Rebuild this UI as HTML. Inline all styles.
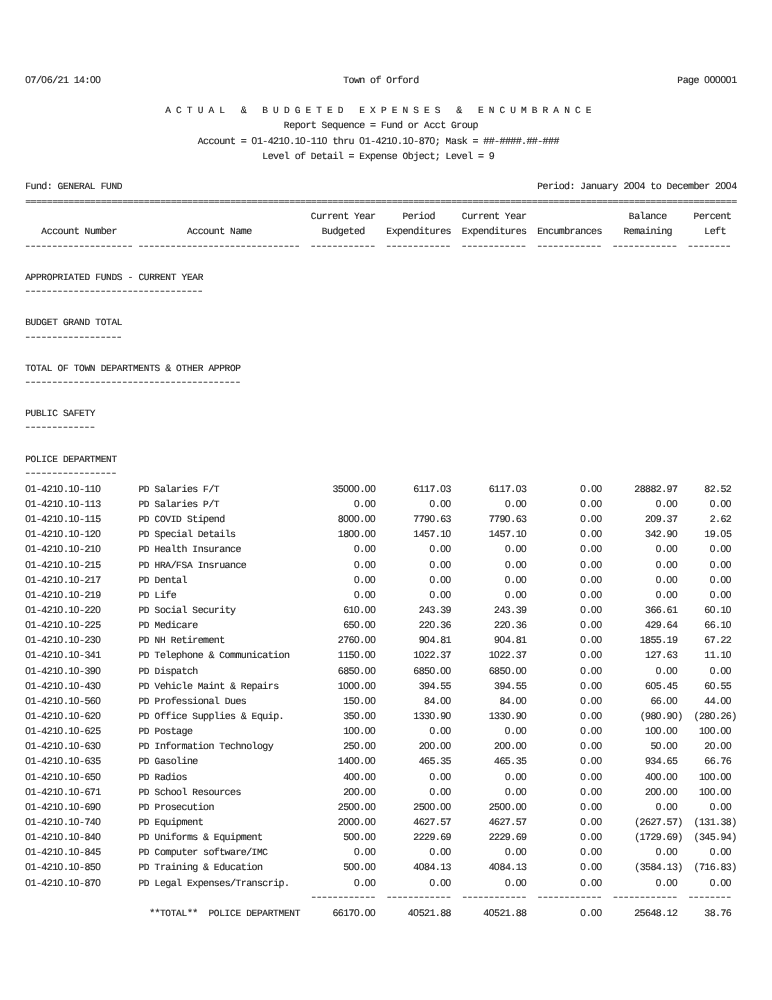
<!DOCTYPE html>
<html><head><meta charset="utf-8"><title>Town of Orford</title>
<style>
html,body{margin:0;padding:0;background:#fff;}
body{width:772px;height:1000px;position:relative;overflow:hidden;}
.l{position:absolute;left:25.2px;margin:0;white-space:pre;font-family:"Liberation Mono",monospace;font-size:10px;line-height:14px;height:14px;letter-spacing:-0.6120px;color:#222;text-rendering:geometricPrecision;-webkit-text-stroke:0.15px #222;}
.c{font-size:9.5px;letter-spacing:-0.3119px;}
.d{font-size:10px;letter-spacing:-1.6550px;color:#444;-webkit-text-stroke:0.18px #444;transform:scaleX(1.24);transform-origin:0 0;}
.e{font-weight:bold;-webkit-text-stroke:0;transform:scaleY(0.7);transform-origin:0 8.9px;color:#4a4a4a;}
.z{font-family:"Liberation Sans",sans-serif;font-size:10px;letter-spacing:-0.1725px;}
#pg{position:absolute;left:0;top:0;width:772px;height:1000px;will-change:transform;filter:grayscale(1);}
</style></head><body><div id="pg">
<div class="l" style="top:74.00px"><span class="z">0</span>7/<span class="z">0</span>6/21 14:<span class="z">00</span>                                             <span class="c">T</span>own of <span class="c">O</span>rford                                                <span class="c">P</span>age <span class="z">00000</span>1</div>
<div class="l" style="top:104.00px">                          <span class="c">A C T U A L</span>   &amp;   <span class="c">B U D G E T E D   E X P E N S E S</span>   &amp;   <span class="c">E N C U M B R A N C E</span></div>
<div class="l" style="top:119.00px">                                                <span class="c">R</span>eport <span class="c">S</span>equence = <span class="c">F</span>und or <span class="c">A</span>cct <span class="c">G</span>roup</div>
<div class="l" style="top:135.00px">                                <span class="c">A</span>ccount = <span class="z">0</span>1-421<span class="z">0</span>.1<span class="z">0</span>-11<span class="z">0</span> thru <span class="z">0</span>1-421<span class="z">0</span>.1<span class="z">0</span>-87<span class="z">0</span>; <span class="c">M</span>ask = ##-####.##-###</div>
<div class="l" style="top:150.00px">                                            <span class="c">L</span>evel of <span class="c">D</span>etail = <span class="c">E</span>xpense <span class="c">O</span>bject; <span class="c">L</span>evel = 9</div>
<div class="l" style="top:180.00px"><span class="c">F</span>und: <span class="c">GENERAL FUND                                                                             P</span>eriod: <span class="c">J</span>anuary 2<span class="z">00</span>4 to <span class="c">D</span>ecember 2<span class="z">00</span>4</div>
<div class="l e" style="top:196.00px">====================================================================================================================================</div>
<div class="l" style="top:210.00px">                                                     <span class="c">C</span>urrent <span class="c">Y</span>ear     <span class="c">P</span>eriod     <span class="c">C</span>urrent <span class="c">Y</span>ear                   <span class="c">B</span>alance     <span class="c">P</span>ercent</div>
<div class="l" style="top:225.00px">   <span class="c">A</span>ccount <span class="c">N</span>umber             <span class="c">A</span>ccount <span class="c">N</span>ame             <span class="c">B</span>udgeted    <span class="c">E</span>xpenditures  <span class="c">E</span>xpenditures  <span class="c">E</span>ncumbrances    <span class="c">R</span>emaining      <span class="c">L</span>eft</div>
<div class="l d" style="top:241.00px;left:24.20px">-------------------- ------------------------------  ------------  ------------  ------------  ------------  ------------  --------</div>
<div class="l" style="top:271.00px"><span class="c">APPROPRIATED FUNDS</span> - <span class="c">CURRENT YEAR</span></div>
<div class="l d" style="top:286.00px;left:24.20px">---------------------------------</div>
<div class="l" style="top:316.00px"><span class="c">BUDGET GRAND TOTAL</span></div>
<div class="l d" style="top:332.00px;left:24.20px">------------------</div>
<div class="l" style="top:362.00px"><span class="c">TOTAL OF TOWN DEPARTMENTS</span> &amp; <span class="c">OTHER APPROP</span></div>
<div class="l d" style="top:377.00px;left:24.20px">----------------------------------------</div>
<div class="l" style="top:407.00px"><span class="c">PUBLIC SAFETY</span></div>
<div class="l d" style="top:422.00px;left:24.20px">-------------</div>
<div class="l" style="top:453.00px"><span class="c">POLICE DEPARTMENT</span></div>
<div class="l d" style="top:468.00px;left:24.20px">-----------------</div>
<div class="l" style="top:483.00px"><span class="z">0</span>1-421<span class="z">0</span>.1<span class="z">0</span>-11<span class="z">0</span>       <span class="c">PD S</span>alaries <span class="c">F</span>/<span class="c">T</span>                     35<span class="z">000</span>.<span class="z">00</span>       6117.<span class="z">0</span>3       6117.<span class="z">0</span>3          <span class="z">0</span>.<span class="z">00</span>      28882.97     82.52</div>
<div class="l" style="top:498.00px"><span class="z">0</span>1-421<span class="z">0</span>.1<span class="z">0</span>-113       <span class="c">PD S</span>alaries <span class="c">P</span>/<span class="c">T</span>                         <span class="z">0</span>.<span class="z">00</span>          <span class="z">0</span>.<span class="z">00</span>          <span class="z">0</span>.<span class="z">00</span>          <span class="z">0</span>.<span class="z">00</span>          <span class="z">0</span>.<span class="z">00</span>      <span class="z">0</span>.<span class="z">00</span></div>
<div class="l" style="top:513.00px"><span class="z">0</span>1-421<span class="z">0</span>.1<span class="z">0</span>-115       <span class="c">PD COVID S</span>tipend                     8<span class="z">000</span>.<span class="z">00</span>       779<span class="z">0</span>.63       779<span class="z">0</span>.63          <span class="z">0</span>.<span class="z">00</span>        2<span class="z">0</span>9.37      2.62</div>
<div class="l" style="top:528.00px"><span class="z">0</span>1-421<span class="z">0</span>.1<span class="z">0</span>-12<span class="z">0</span>       <span class="c">PD S</span>pecial <span class="c">D</span>etails                   18<span class="z">00</span>.<span class="z">00</span>       1457.1<span class="z">0</span>       1457.1<span class="z">0</span>          <span class="z">0</span>.<span class="z">00</span>        342.9<span class="z">0</span>     19.<span class="z">0</span>5</div>
<div class="l" style="top:543.00px"><span class="z">0</span>1-421<span class="z">0</span>.1<span class="z">0</span>-21<span class="z">0</span>       <span class="c">PD H</span>ealth <span class="c">I</span>nsurance                     <span class="z">0</span>.<span class="z">00</span>          <span class="z">0</span>.<span class="z">00</span>          <span class="z">0</span>.<span class="z">00</span>          <span class="z">0</span>.<span class="z">00</span>          <span class="z">0</span>.<span class="z">00</span>      <span class="z">0</span>.<span class="z">00</span></div>
<div class="l" style="top:559.00px"><span class="z">0</span>1-421<span class="z">0</span>.1<span class="z">0</span>-215       <span class="c">PD HRA</span>/<span class="c">FSA I</span>nsruance                    <span class="z">0</span>.<span class="z">00</span>          <span class="z">0</span>.<span class="z">00</span>          <span class="z">0</span>.<span class="z">00</span>          <span class="z">0</span>.<span class="z">00</span>          <span class="z">0</span>.<span class="z">00</span>      <span class="z">0</span>.<span class="z">00</span></div>
<div class="l" style="top:574.00px"><span class="z">0</span>1-421<span class="z">0</span>.1<span class="z">0</span>-217       <span class="c">PD D</span>ental                               <span class="z">0</span>.<span class="z">00</span>          <span class="z">0</span>.<span class="z">00</span>          <span class="z">0</span>.<span class="z">00</span>          <span class="z">0</span>.<span class="z">00</span>          <span class="z">0</span>.<span class="z">00</span>      <span class="z">0</span>.<span class="z">00</span></div>
<div class="l" style="top:589.00px"><span class="z">0</span>1-421<span class="z">0</span>.1<span class="z">0</span>-219       <span class="c">PD L</span>ife                                 <span class="z">0</span>.<span class="z">00</span>          <span class="z">0</span>.<span class="z">00</span>          <span class="z">0</span>.<span class="z">00</span>          <span class="z">0</span>.<span class="z">00</span>          <span class="z">0</span>.<span class="z">00</span>      <span class="z">0</span>.<span class="z">00</span></div>
<div class="l" style="top:604.00px"><span class="z">0</span>1-421<span class="z">0</span>.1<span class="z">0</span>-22<span class="z">0</span>       <span class="c">PD S</span>ocial <span class="c">S</span>ecurity                    61<span class="z">0</span>.<span class="z">00</span>        243.39        243.39          <span class="z">0</span>.<span class="z">00</span>        366.61     6<span class="z">0</span>.1<span class="z">0</span></div>
<div class="l" style="top:619.00px"><span class="z">0</span>1-421<span class="z">0</span>.1<span class="z">0</span>-225       <span class="c">PD M</span>edicare                           65<span class="z">0</span>.<span class="z">00</span>        22<span class="z">0</span>.36        22<span class="z">0</span>.36          <span class="z">0</span>.<span class="z">00</span>        429.64     66.1<span class="z">0</span></div>
<div class="l" style="top:634.00px"><span class="z">0</span>1-421<span class="z">0</span>.1<span class="z">0</span>-23<span class="z">0</span>       <span class="c">PD NH R</span>etirement                     276<span class="z">0</span>.<span class="z">00</span>        9<span class="z">0</span>4.81        9<span class="z">0</span>4.81          <span class="z">0</span>.<span class="z">00</span>       1855.19     67.22</div>
<div class="l" style="top:649.00px"><span class="z">0</span>1-421<span class="z">0</span>.1<span class="z">0</span>-341       <span class="c">PD T</span>elephone &amp; <span class="c">C</span>ommunication         115<span class="z">0</span>.<span class="z">00</span>       1<span class="z">0</span>22.37       1<span class="z">0</span>22.37          <span class="z">0</span>.<span class="z">00</span>        127.63     11.1<span class="z">0</span></div>
<div class="l" style="top:665.00px"><span class="z">0</span>1-421<span class="z">0</span>.1<span class="z">0</span>-39<span class="z">0</span>       <span class="c">PD D</span>ispatch                          685<span class="z">0</span>.<span class="z">00</span>       685<span class="z">0</span>.<span class="z">00</span>       685<span class="z">0</span>.<span class="z">00</span>          <span class="z">0</span>.<span class="z">00</span>          <span class="z">0</span>.<span class="z">00</span>      <span class="z">0</span>.<span class="z">00</span></div>
<div class="l" style="top:680.00px"><span class="z">0</span>1-421<span class="z">0</span>.1<span class="z">0</span>-43<span class="z">0</span>       <span class="c">PD V</span>ehicle <span class="c">M</span>aint &amp; <span class="c">R</span>epairs           1<span class="z">000</span>.<span class="z">00</span>        394.55        394.55          <span class="z">0</span>.<span class="z">00</span>        6<span class="z">0</span>5.45     6<span class="z">0</span>.55</div>
<div class="l" style="top:695.00px"><span class="z">0</span>1-421<span class="z">0</span>.1<span class="z">0</span>-56<span class="z">0</span>       <span class="c">PD P</span>rofessional <span class="c">D</span>ues                  15<span class="z">0</span>.<span class="z">00</span>         84.<span class="z">00</span>         84.<span class="z">00</span>          <span class="z">0</span>.<span class="z">00</span>         66.<span class="z">00</span>     44.<span class="z">00</span></div>
<div class="l" style="top:710.00px"><span class="z">0</span>1-421<span class="z">0</span>.1<span class="z">0</span>-62<span class="z">0</span>       <span class="c">PD O</span>ffice <span class="c">S</span>upplies &amp; <span class="c">E</span>quip.           35<span class="z">0</span>.<span class="z">00</span>       133<span class="z">0</span>.9<span class="z">0</span>       133<span class="z">0</span>.9<span class="z">0</span>          <span class="z">0</span>.<span class="z">00</span>       (98<span class="z">0</span>.9<span class="z">0</span>)  (28<span class="z">0</span>.26)</div>
<div class="l" style="top:725.00px"><span class="z">0</span>1-421<span class="z">0</span>.1<span class="z">0</span>-625       <span class="c">PD P</span>ostage                            1<span class="z">00</span>.<span class="z">00</span>          <span class="z">0</span>.<span class="z">00</span>          <span class="z">0</span>.<span class="z">00</span>          <span class="z">0</span>.<span class="z">00</span>        1<span class="z">00</span>.<span class="z">00</span>    1<span class="z">00</span>.<span class="z">00</span></div>
<div class="l" style="top:740.00px"><span class="z">0</span>1-421<span class="z">0</span>.1<span class="z">0</span>-63<span class="z">0</span>       <span class="c">PD I</span>nformation <span class="c">T</span>echnology             25<span class="z">0</span>.<span class="z">00</span>        2<span class="z">00</span>.<span class="z">00</span>        2<span class="z">00</span>.<span class="z">00</span>          <span class="z">0</span>.<span class="z">00</span>         5<span class="z">0</span>.<span class="z">00</span>     2<span class="z">0</span>.<span class="z">00</span></div>
<div class="l" style="top:755.00px"><span class="z">0</span>1-421<span class="z">0</span>.1<span class="z">0</span>-635       <span class="c">PD G</span>asoline                          14<span class="z">00</span>.<span class="z">00</span>        465.35        465.35          <span class="z">0</span>.<span class="z">00</span>        934.65     66.76</div>
<div class="l" style="top:771.00px"><span class="z">0</span>1-421<span class="z">0</span>.1<span class="z">0</span>-65<span class="z">0</span>       <span class="c">PD R</span>adios                             4<span class="z">00</span>.<span class="z">00</span>          <span class="z">0</span>.<span class="z">00</span>          <span class="z">0</span>.<span class="z">00</span>          <span class="z">0</span>.<span class="z">00</span>        4<span class="z">00</span>.<span class="z">00</span>    1<span class="z">00</span>.<span class="z">00</span></div>
<div class="l" style="top:786.00px"><span class="z">0</span>1-421<span class="z">0</span>.1<span class="z">0</span>-671       <span class="c">PD S</span>chool <span class="c">R</span>esources                   2<span class="z">00</span>.<span class="z">00</span>          <span class="z">0</span>.<span class="z">00</span>          <span class="z">0</span>.<span class="z">00</span>          <span class="z">0</span>.<span class="z">00</span>        2<span class="z">00</span>.<span class="z">00</span>    1<span class="z">00</span>.<span class="z">00</span></div>
<div class="l" style="top:801.00px"><span class="z">0</span>1-421<span class="z">0</span>.1<span class="z">0</span>-69<span class="z">0</span>       <span class="c">PD P</span>rosecution                       25<span class="z">00</span>.<span class="z">00</span>       25<span class="z">00</span>.<span class="z">00</span>       25<span class="z">00</span>.<span class="z">00</span>          <span class="z">0</span>.<span class="z">00</span>          <span class="z">0</span>.<span class="z">00</span>      <span class="z">0</span>.<span class="z">00</span></div>
<div class="l" style="top:816.00px"><span class="z">0</span>1-421<span class="z">0</span>.1<span class="z">0</span>-74<span class="z">0</span>       <span class="c">PD E</span>quipment                         2<span class="z">000</span>.<span class="z">00</span>       4627.57       4627.57          <span class="z">0</span>.<span class="z">00</span>      (2627.57)  (131.38)</div>
<div class="l" style="top:831.00px"><span class="z">0</span>1-421<span class="z">0</span>.1<span class="z">0</span>-84<span class="z">0</span>       <span class="c">PD U</span>niforms &amp; <span class="c">E</span>quipment               5<span class="z">00</span>.<span class="z">00</span>       2229.69       2229.69          <span class="z">0</span>.<span class="z">00</span>      (1729.69)  (345.94)</div>
<div class="l" style="top:846.00px"><span class="z">0</span>1-421<span class="z">0</span>.1<span class="z">0</span>-845       <span class="c">PD C</span>omputer software/<span class="c">IMC</span>                <span class="z">0</span>.<span class="z">00</span>          <span class="z">0</span>.<span class="z">00</span>          <span class="z">0</span>.<span class="z">00</span>          <span class="z">0</span>.<span class="z">00</span>          <span class="z">0</span>.<span class="z">00</span>      <span class="z">0</span>.<span class="z">00</span></div>
<div class="l" style="top:861.00px"><span class="z">0</span>1-421<span class="z">0</span>.1<span class="z">0</span>-85<span class="z">0</span>       <span class="c">PD T</span>raining &amp; <span class="c">E</span>ducation               5<span class="z">00</span>.<span class="z">00</span>       4<span class="z">0</span>84.13       4<span class="z">0</span>84.13          <span class="z">0</span>.<span class="z">00</span>      (3584.13)  (716.83)</div>
<div class="l" style="top:877.00px"><span class="z">0</span>1-421<span class="z">0</span>.1<span class="z">0</span>-87<span class="z">0</span>       <span class="c">PD L</span>egal <span class="c">E</span>xpenses/<span class="c">T</span>ranscrip.            <span class="z">0</span>.<span class="z">00</span>          <span class="z">0</span>.<span class="z">00</span>          <span class="z">0</span>.<span class="z">00</span>          <span class="z">0</span>.<span class="z">00</span>          <span class="z">0</span>.<span class="z">00</span>      <span class="z">0</span>.<span class="z">00</span></div>
<div class="l d" style="top:892.00px;left:309.82px">------------  ------------  ------------  ------------  ------------  --------</div>
<div class="l" style="top:907.00px">                       **<span class="c">TOTAL</span>**  <span class="c">POLICE DEPARTMENT</span>      6617<span class="z">0</span>.<span class="z">00</span>      4<span class="z">0</span>521.88      4<span class="z">0</span>521.88          <span class="z">0</span>.<span class="z">00</span>      25648.12     38.76</div>
</div></body></html>
